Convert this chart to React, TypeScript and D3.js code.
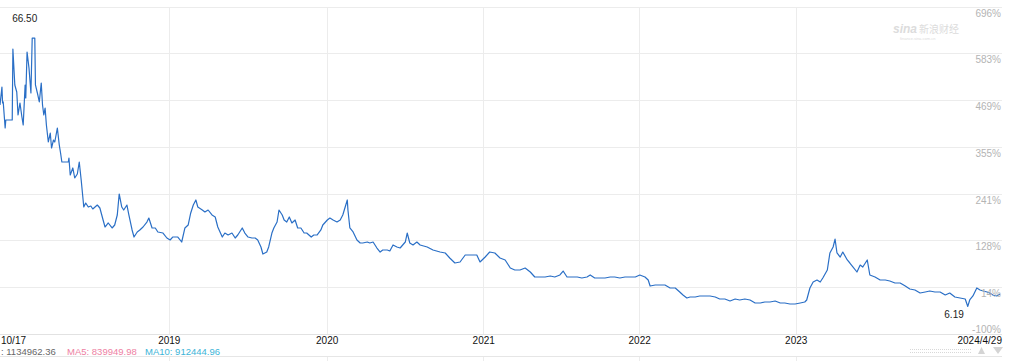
import React from "react";
import * as d3 from "d3";

// trading-session index (from left edge of the window) and closing price
const sessions = [0,3,4,5,8,9,19,20,23,26,28,31,34,36,39,40,42,45,48,50,54,55,58,61,64,66,68,70,72,75,78,80,83,85,89,92,94,96,106,107,109,113,116,120,123,126,129,130,133,137,141,144,151,155,160,163,168,174,178,182,185,189,192,197,200,205,208,213,217,222,228,231,236,241,245,253,259,264,268,276,282,287,292,296,300,304,307,314,318,323,329,334,338,345,349,354,360,365,369,376,380,385,391,396,400,405,408,414,417,422,425,430,433,438,441,445,449,453,458,462,467,472,476,483,487,492,498,501,508,512,517,523,528,532,539,540,543,548,554,559,563,570,574,579,585,590,594,601,605,610,616,621,629,632,636,641,647,652,663,672,683,691,698,706,714,722,729,740,745,753,760,768,776,784,792,799,807,815,823,830,838,846,854,861,869,874,880,888,896,903,911,916,923,931,939,947,954,962,970,978,986,993,1001,1006,1009,1017,1024,1032,1040,1048,1055,1060,1066,1071,1079,1086,1094,1102,1110,1117,1125,1133,1141,1148,1156,1164,1172,1180,1187,1195,1203,1211,1218,1226,1234,1242,1249,1252,1257,1262,1268,1273,1277,1284,1288,1293,1296,1299,1304,1308,1315,1319,1324,1330,1335,1339,1346,1350,1358,1366,1374,1381,1389,1397,1405,1412,1420,1428,1436,1443,1451,1459,1467,1474,1482,1490,1498,1502,1505,1510,1516,1521,1526,1532,1536,1541,1547,1552];
const closes = [51.45,55.50,51.90,52.13,46.28,48.08,48.08,64.03,55.95,54.37,49.21,51.90,48.76,46.96,55.95,53.02,63.36,59.76,54.15,66.50,66.50,55.95,54.15,52.13,56.39,51.45,49.21,50.78,46.96,43.14,45.16,41.79,43.59,43.14,46.28,42.46,40.67,38.64,38.64,39.54,35.72,37.30,35.05,35.95,38.64,34.60,30.11,28.53,29.43,28.53,28.76,28.09,28.98,28.31,25.61,24.04,24.94,23.82,24.49,26.74,31.46,28.53,27.86,28.98,26.74,23.37,21.79,22.92,23.37,24.04,25.16,26.06,23.82,23.82,22.92,22.69,21.57,21.12,21.79,21.79,20.67,23.82,24.49,27.19,28.98,30.11,28.53,27.86,27.41,27.86,26.74,26.29,24.04,21.79,22.69,22.24,22.69,21.57,22.24,23.82,22.69,21.79,21.57,21.57,21.12,19.55,17.97,18.42,19.55,22.69,23.82,25.16,27.86,26.74,25.61,25.16,26.29,24.94,25.61,23.82,23.82,22.69,22.69,21.79,22.24,22.24,23.37,24.49,25.61,26.06,25.61,25.16,25.61,26.74,30.11,27.86,23.82,22.92,21.12,20.45,20.45,20.67,20.45,20.67,19.32,18.42,18.87,18.87,18.65,20.00,19.55,19.32,20.67,22.69,20.45,20.00,20.67,20.00,19.55,18.87,18.42,18.20,17.08,15.95,16.18,17.75,17.75,17.75,16.18,17.30,18.42,18.20,17.08,16.63,14.83,14.38,14.38,14.83,13.93,12.81,12.81,12.81,13.03,12.81,13.26,14.15,12.81,12.81,12.81,12.58,12.81,13.26,12.58,12.58,12.58,12.81,12.81,12.58,12.81,12.81,12.81,13.26,12.81,12.13,10.78,11.01,11.01,11.01,10.34,10.34,9.44,8.76,8.09,8.31,8.31,8.54,8.54,8.54,8.31,7.86,7.86,7.41,7.86,7.64,7.86,7.64,6.97,6.97,7.19,7.19,7.41,6.97,6.97,6.74,6.74,6.97,7.19,7.64,10.34,11.68,12.13,11.68,12.58,14.38,18.20,19.55,21.34,18.20,17.30,18.42,16.63,15.95,15.05,13.93,15.50,15.05,16.63,13.26,12.81,12.13,12.13,11.91,11.46,11.46,10.78,10.11,9.89,9.21,9.44,9.66,9.44,9.44,8.76,9.21,8.31,8.09,7.86,6.19,7.64,8.54,10.34,9.89,9.66,9.44,9.21,8.76,8.54,8.99];

// axis labels
const yearTickSessions = [262, 507, 750, 992, 1235];
const yearTickLabels = ["2019", "2020", "2021", "2022", "2023"];
const firstDateLabel = "10/17";
const lastDateLabel = "2024/4/29";
const pctTicks = [-100, 14, 128, 241, 355, 469, 583, 696];
const basePrice = 9.23;
const legendItems = [
  { text: ": 1134962.36", color: "#666" },
  { text: "MA5: 839949.98", color: "#ee7fa3" },
  { text: "MA10: 912444.96", color: "#3cb4d8" },
];

const W = 1010;
const H = 361;
const FONT = "Arial, 'Liberation Sans', Helvetica, sans-serif";

export default function App() {
  const left = 0, right = 1000, top = 7, bottom = 334;
  const x = d3.scaleLinear().domain([0, 1552]).range([left, right]);
  const pctToPrice = (p: number) => basePrice * (1 + p / 100);
  const y = d3
    .scaleLinear()
    .domain([0, pctToPrice(696)])
    .range([bottom, top]);

  const pts = sessions.map((s, i) => [s, closes[i]] as [number, number]);
  const line = d3
    .line<[number, number]>()
    .x((d) => x(d[0]))
    .y((d) => y(d[1]));

  let maxI = 0, minI = 0;
  closes.forEach((c, i) => {
    if (c > closes[maxI]) maxI = i;
    if (c < closes[minI]) minI = i;
  });

  const gridRight = 1002;
  const xLabelY = 343.5;
  const legendY = 355;

  return (
    <svg
      width={W}
      height={H}
      style={{ position: "absolute", left: 0, top: 0, background: "#fff" }}
      fontFamily={FONT}
    >
      {/* horizontal gridlines */}
      {pctTicks.map((p) => (
        <line
          key={"h" + p}
          x1={0}
          x2={gridRight}
          y1={Math.round(y(pctToPrice(p))) + 0.5}
          y2={Math.round(y(pctToPrice(p))) + 0.5}
          stroke={p === -100 ? "#e2e2e2" : "#ececec"}
          strokeWidth={1}
        />
      ))}
      {/* vertical year gridlines */}
      {yearTickSessions.map((s) => (
        <g key={"v" + s}>
          <line
            x1={Math.round(x(s)) + 0.5}
            x2={Math.round(x(s)) + 0.5}
            y1={top}
            y2={bottom}
            stroke="#ececec"
          />
          <line
            x1={Math.round(x(s)) + 0.5}
            x2={Math.round(x(s)) + 0.5}
            y1={356}
            y2={H}
            stroke="#ececec"
          />
        </g>
      ))}
      <line x1={0} x2={gridRight} y1={356.5} y2={356.5} stroke="#e6e6e6" />

      {/* watermark */}
      <g fill="#dcdcdc">
        <text x={893} y={33} fontSize={12} fontStyle="italic" fontWeight="bold">
          sina
        </text>
        <text x={919} y={33} fontSize={10} fontFamily="'Noto Sans CJK SC', sans-serif">
          新浪财经
        </text>
        <text x={900} y={40} fontSize={4}>
          finance.sina.com.cn
        </text>
      </g>

      {/* price line */}
      <path
        d={line(pts) || ""}
        fill="none"
        stroke="#2a6fc6"
        strokeWidth={1.2}
        strokeLinejoin="round"
      />

      {/* y labels */}
      {pctTicks.map((p) => {
        const yy = y(pctToPrice(p));
        return (
          <text
            key={"yl" + p}
            x={1001}
            y={p === -100 ? yy - 1 : yy + 10}
            textAnchor="end"
            fontSize={10}
            fill="#b4b4b4"
          >
            {p + "%"}
          </text>
        );
      })}

      {/* max / min labels */}
      <text
        x={x(sessions[maxI]) + 5}
        y={22}
        textAnchor="end"
        fontSize={10}
        fill="#222"
      >
        {closes[maxI].toFixed(2)}
      </text>
      <text
        x={x(sessions[minI]) - 4}
        y={y(closes[minI]) + 12}
        textAnchor="end"
        fontSize={10}
        fill="#222"
      >
        {closes[minI].toFixed(2)}
      </text>

      {/* x labels */}
      <text x={1} y={xLabelY} fontSize={10} fill="#111">
        {firstDateLabel}
      </text>
      {yearTickSessions.map((s, i) => (
        <text
          key={"xl" + s}
          x={x(s) + 0.5}
          y={xLabelY}
          textAnchor="middle"
          fontSize={10}
          fill="#111"
        >
          {yearTickLabels[i]}
        </text>
      ))}
      <text x={1002} y={xLabelY} textAnchor="end" fontSize={10} fill="#111">
        {lastDateLabel}
      </text>

      {/* legend */}
      {(() => {
        const starts = [1, 67, 145];
        return legendItems.map((it, i) => (
          <text key={it.text} x={starts[i]} y={legendY} fontSize={9.5} fill={it.color}>
            {it.text}
          </text>
        ));
      })()}

      {/* scroll controls */}
      <g stroke="#d8d8d8" strokeWidth={1} strokeDasharray="1,1">
        <line x1={910} x2={972} y1={349.5} y2={349.5} />
        <line x1={910} x2={972} y1={352.5} y2={352.5} />
      </g>
      <path d="M978,354 L981.5,347 L985,354 Z" fill="#d4d4d4" />
      <path d="M993,347 L1003,347 L998,354 Z" fill="#d4d4d4" />
    </svg>
  );
}
